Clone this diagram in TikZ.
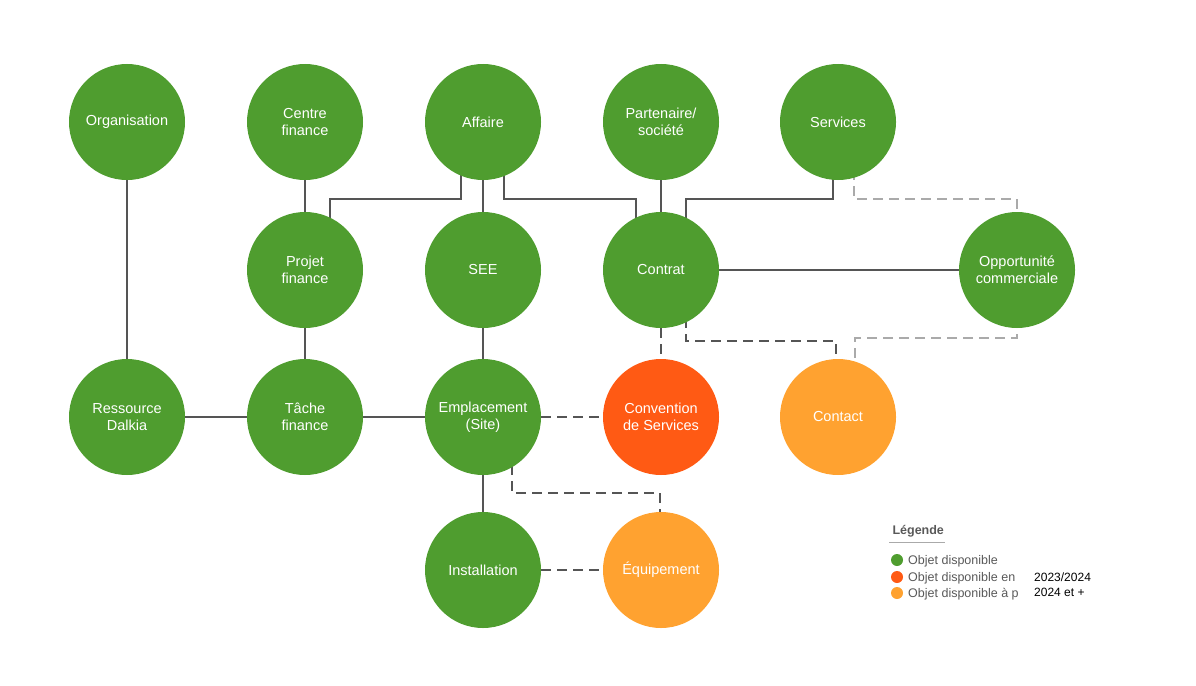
\documentclass[tikz,border=0pt]{standalone}
\usepackage{fontspec}
\setmainfont{Liberation Sans}
\usetikzlibrary{backgrounds}
\definecolor{vert}{HTML}{4F9D2F}
\definecolor{rouge}{HTML}{FF5A14}
\definecolor{orangeclair}{HTML}{FFA230}
\definecolor{trait}{HTML}{555555}
\definecolor{traitclair}{HTML}{AAAAAA}
\definecolor{legende}{HTML}{595959}
\begin{document}
\begin{tikzpicture}[x=1pt,y=-1pt,
        lien/.style={draw=trait,line width=2pt},
        lienpt/.style={lien,dash pattern=on 10pt off 6pt},
        lienclair/.style={draw=traitclair,line width=2pt,dash pattern=on 10pt off 6pt},
        pastille/.style={circle,inner sep=0pt,minimum size=12pt}]
        \useasboundingbox (0,0) rectangle (1196,685);
        \begin{scope}[every node/.style={circle,fill=vert,text=white,inner sep=0pt,
                        minimum size=116pt,align=center,font=\fontsize{14.5}{17}\selectfont}]
            \node (O) at (127,122) {Organisation};
            \node (CF) at (305,122) {Centre\\finance};
            \node (A) at (483,122) {Affaire};
            \node (P) at (661,122) {Partenaire/\\société};
            \node (S) at (838,122) {Services};
            \node (PF) at (305,270) {Projet\\finance};
            \node (SEE) at (483,270) {SEE};
            \node (C) at (661,270) {Contrat};
            \node (OC) at (1017,270) {Opportunité\\commerciale};
            \node (R) at (127,417) {Ressource\\Dalkia};
            \node (T) at (305,417) {Tâche\\finance};
            \node (E) at (483,417) {Emplacement\\(Site)};
            \node[fill=rouge] (CS) at (661,417) {Convention\\de Services};
            \node[fill=orangeclair] (CT) at (838,417) {Contact};
            \node (I) at (483,570) {Installation};
            \node[fill=orangeclair] (EQ) at (661,570) {Équipement};
        \end{scope}

        \begin{scope}[on background layer]
            \path[lien] (O) -- (R);
            \path[lien] (CF) -- (PF);
            \path[lien] (A) -- (SEE);
            \path[lien] (P) -- (C);
            \path[lien] (C) -- (OC);
            \path[lien] (PF) -- (T);
            \path[lien] (SEE) -- (E);
            \path[lien] (R) -- (T);
            \path[lien] (T) -- (E);
            \path[lien] (E) -- (I);
            \path[lien] ([xshift=-22pt]A.center) -- ++(0,77) -| ([xshift=25pt]PF.center);
            \path[lien] ([xshift=21pt]A.center) -- ++(0,77) -| ([xshift=-25pt]C.center);
            \path[lien] ([xshift=-5pt]S.center) -- ++(0,77) -| ([xshift=25pt]C.center);
            \path[lienclair] ([xshift=16pt]S.center) -- ++(0,77) -| (OC.center);
            \path[lienpt] (C) -- (CS);
            \path[lienpt] ([xshift=25pt]C.center) -- ++(0,71) -| ([xshift=-2pt]CT.center);
            \path[lienclair] (OC.center) -- ++(0,68) -| ([xshift=17pt]CT.center);
            \path[lienpt] (E) -- (CS);
            \path[lienpt] ([xshift=29pt]E.center) -- ++(0,76) -| ([xshift=-1pt]EQ.center);
            \path[lienpt] (I) -- (EQ);
        \end{scope}

        % legende
        \node[anchor=west,text=legende,font=\fontsize{12.5}{15}\bfseries\selectfont] (L) at (889,531) {Légende};
        \draw[traitclair,line width=1pt] ([yshift=-2pt]L.south west) -- ([yshift=-2pt,xshift=-2pt]L.south east);
        \node[pastille,fill=vert] (L1) at (897,560) {};
        \node[pastille,fill=rouge] (L2) at (897,577) {};
        \node[pastille,fill=orangeclair] (L3) at (897,593) {};
        \begin{scope}[every node/.style={anchor=west,text=legende,inner sep=0pt,
                        font=\fontsize{12.5}{15}\selectfont}]
            \clip (900,550) rectangle (1021,602);
            \node at (908,561) {Objet disponible};
            \node at (908,578) {Objet disponible en};
            \node at (908,594) {Objet disponible à p};
        \end{scope}
        \node[anchor=west,inner sep=0pt,font=\fontsize{12}{14}\selectfont] (D1) at (1034,577) {2023/2024};
        \node[anchor=west,inner sep=0pt,font=\fontsize{12}{14}\selectfont] (D2) at (1034,592) {2024 et +};
    \end{tikzpicture}
\end{document}
